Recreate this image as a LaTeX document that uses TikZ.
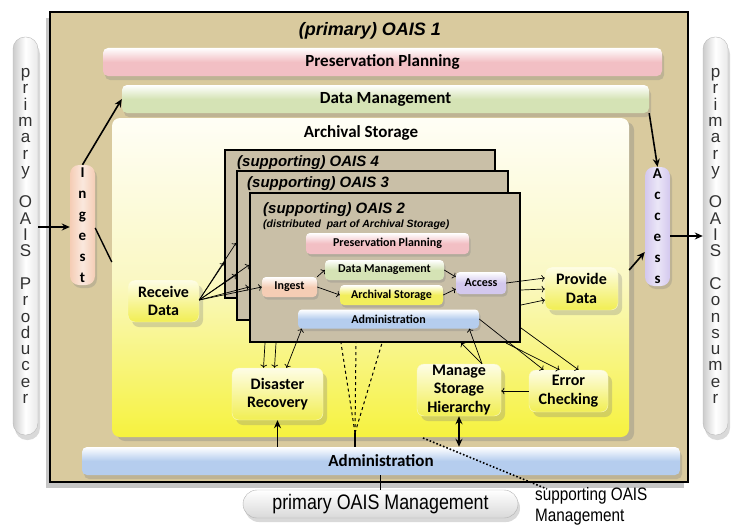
\documentclass[tikz,border=0pt]{standalone}
\usepackage{fontspec}
\setmainfont{Carlito}
\newfontfamily\arial{Liberation Sans}
\newfontfamily\arialn[FakeStretch=0.85]{Liberation Sans}
\usetikzlibrary{arrows.meta,shadows}

\newcommand{\fsz}[2]{\fontsize{#1}{#2}\selectfont}

\definecolor{tan}{HTML}{D9CA9E}
\definecolor{suptan}{HTML}{C9BFA7}
\definecolor{ppcol}{HTML}{F2BFC4}
\definecolor{dmcol}{HTML}{D5E3B5}
\definecolor{ascol}{HTML}{F2EE5C}
\definecolor{admcol}{HTML}{B5CDEE}
\definecolor{ingcol}{HTML}{F5CDB5}
\definecolor{acccol}{HTML}{D3C8EE}
\definecolor{astop}{HTML}{FFFEF6}
\definecolor{asmid}{HTML}{FAF8C4}
\definecolor{asbot}{HTML}{F6F23E}
\definecolor{ytop}{HTML}{FEFDE6}
\definecolor{ybot}{HTML}{F1EE52}

\tikzset{
  oaisframe/.style={draw, line width=2pt, fill=tan, inner sep=0pt,
    drop shadow={shadow xshift=-4pt, shadow yshift=-6pt, opacity=.45}},
  supbox/.style={draw, line width=2pt, fill=suptan, inner sep=0pt},
  suptitle/.style={font=\arial\fsz{15}{17}\bfseries\itshape, inner sep=0pt},
  hbar/.style={rounded corners=5pt, inner sep=0pt, top color=white,
    bottom color=#1, middle color=#1, font=\fsz{17}{20}\bfseries,
    drop shadow={shadow xshift=2pt, shadow yshift=-4pt, opacity=.3}},
  sbar/.style={rounded corners=4pt, inner sep=0pt, top color=white,
    bottom color=#1, middle color=#1, font=\fsz{12}{14}\bfseries,
    drop shadow={shadow xshift=1.5pt, shadow yshift=-2.5pt, opacity=.3}},
  vbar/.style={rounded corners=9pt, inner sep=0pt, left color=#1,
    right color=#1, middle color=white!55!#1, align=center,
    font=\fsz{15}{21}\bfseries,
    drop shadow={shadow xshift=2pt, shadow yshift=-3pt, opacity=.3}},
  greyv/.style={rounded corners=12pt, inner sep=0pt, draw=gray!55,
    left color=gray!40, right color=gray!18, middle color=white,
    align=center, font=\arial\fsz{17}{16.3}, text=black!80,
    drop shadow={shadow xshift=2pt, shadow yshift=-5pt, opacity=.3}},
  asbox/.style={rounded corners=8pt, inner sep=0pt, top color=astop,
    bottom color=asbot, middle color=asmid,
    drop shadow={shadow xshift=5pt, shadow yshift=-4pt, opacity=.35}},
  ybox/.style={rounded corners=7pt, inner sep=0pt, draw=ybot!35!white,
    top color=ytop, bottom color=ybot, align=center,
    font=\fsz{16}{18.5}\bfseries,
    drop shadow={shadow xshift=4pt, shadow yshift=-5pt, opacity=.3}},
  link/.style={->, line width=0.7pt},
  biglink/.style={-{Stealth[length=8pt,width=7pt]}, line width=1.6pt},
}

\begin{document}
\begin{tikzpicture}[x=1pt,y=-1pt]
  \useasboundingbox (0,0) rectangle (733,527);

  % primary OAIS 1
  \node[oaisframe, minimum width=638, minimum height=470] (oaisone) at (369,247) {};
  \node[font=\arial\fsz{18}{20}\bfseries\itshape] (title) at (370,31) {(primary) OAIS 1};
  \node[hbar=ppcol, minimum width=559, minimum height=28] (ppbar) at (382.5,62) {Preservation Planning};
  \node[hbar=dmcol, minimum width=527, minimum height=28] (dmbar) at (385.5,99) {Data Management};
  \node[asbox, minimum width=517, minimum height=319] (asarea) at (370.5,277.5) {};
  \node[font=\fsz{17}{20}\bfseries] (astitle) at (361,133) {Archival Storage};
  \node[vbar=ingcol, minimum width=25, minimum height=120] (ingestbar) at (82.5,225) {I\\n\\g\\e\\s\\t};
  \node[vbar=acccol, minimum width=25, minimum height=119] (accessbar) at (657.5,226.5) {A\\c\\c\\e\\s\\s};
  \node[hbar=admcol, minimum width=598, minimum height=28] (adminbar) at (381,461) {Administration};

  % producer and consumer
  \node[greyv, minimum width=25, minimum height=398] (producer) at (25.5,236)
    {p\\r\\i\\m\\a\\r\\y\\[16.3pt]O\\A\\I\\S\\[16.3pt]P\\r\\o\\d\\u\\c\\e\\r};
  \node[greyv, minimum width=25, minimum height=398] (consumer) at (715.5,236)
    {p\\r\\i\\m\\a\\r\\y\\[16.3pt]O\\A\\I\\S\\[16.3pt]C\\o\\n\\s\\u\\m\\e\\r};

  % supporting OAIS 4, 3, 2
  \node[supbox, minimum width=270, minimum height=148] (oaisfour) at (360,224) {};
  \node[suptitle, anchor=west] (titlefour) at (237,163) {(supporting) OAIS 4};
  \node[supbox, minimum width=271, minimum height=149] (oaisthree) at (372.5,245.5) {};
  \node[suptitle, anchor=west] (titlethree) at (247,184) {(supporting) OAIS 3};
  \node[supbox, minimum width=270, minimum height=149] (oaistwo) at (385,267.5) {};
  \node[suptitle, anchor=west] (titletwo) at (263,210) {(supporting) OAIS 2};
  \node[font=\arial\fsz{10.5}{12}\bfseries\itshape, anchor=west, inner sep=0pt] (distr) at (263,225)
    {(distributed\ \ part of Archival Storage)};
  \node[sbar=ppcol, minimum width=163, minimum height=21] (spp) at (387.5,243.5) {Preservation Planning};
  \node[sbar=dmcol, minimum width=119, minimum height=20] (sdm) at (384.5,270) {Data Management};
  \node[sbar=ascol, minimum width=103, minimum height=20] (sas) at (391.5,295) {Archival Storage};
  \node[sbar=ingcol, minimum width=55, minimum height=20] (sing) at (289.5,287) {Ingest};
  \node[sbar=acccol, minimum width=50, minimum height=22] (sacc) at (481,283) {Access};
  \node[sbar=admcol, minimum width=181, minimum height=19] (sadm) at (388.5,319) {Administration};

  % functions of archival storage
  \node[ybox, minimum width=71, minimum height=42] (recv) at (163.5,301) {Receive\\Data};
  \node[ybox, minimum width=73, minimum height=43] (provide) at (581.5,288.5) {Provide\\Data};
  \node[ybox, minimum width=91, minimum height=52] (disaster) at (277.5,394) {Disaster\\Recovery};
  \node[ybox, minimum width=84, minimum height=52] (msh) at (459,390) {Manage\\Storage\\Hierarchy};
  \node[ybox, minimum width=79, minimum height=42] (errchk) at (568.5,391) {Error\\Checking};

  % management
  \node[rounded corners=14pt, draw=gray!60, top color=white, bottom color=gray!30,
    minimum width=275, minimum height=28, inner sep=0pt, font=\arialn\fsz{21}{24},
    drop shadow={shadow xshift=2pt, shadow yshift=-4pt, opacity=.3}] (mgmt) at (380.5,504)
    {primary OAIS Management};
  \node[font=\arialn\fsz{18}{21}, align=left, anchor=north west, inner sep=0pt] (supnote) at (535,487)
    {supporting OAIS\\Management};

  % primary flows
  \draw[biglink] (producer.east |- 0,227) -- (ingestbar.west |- 0,227);
  \draw[biglink] (ingestbar.north) -- (dmbar.west);
  \draw[line width=1.4pt] (ingestbar.east |- 0,228) -- (asarea.west |- 0,262);
  \draw[biglink] (dmbar.south east) -- (accessbar.north);
  \draw[biglink] (asarea.east |- 0,270) -- (accessbar.west |- 0,252);
  \draw[biglink] (accessbar.east |- 0,236) -- (consumer.west |- 0,236);

  % into the supporting OAIS
  \draw[link] (recv.east |- 0,300) -- (oaisthree.west |- 0,243);
  \draw[link] (recv.east |- 0,300) -- (oaisfour.west |- 0,263);
  \draw[link] (recv.east |- 0,300) -- (oaistwo.west |- 0,265);
  \draw[link] (recv.east |- 0,300) -- (oaisthree.west |- 0,275);
  \draw[link] (recv.east |- 0,300) -- (oaistwo.west |- 0,287);
  \draw[link] (recv.east |- 0,300) -- (sing.west);
  \draw[link] (sing.north east) -- (sdm.west);
  \draw[link] (sing.east) -- (sas.west);
  \draw[link] (sdm.east) -- (sacc.west |- 0,277);
  \draw[link] (sas.east) -- (sacc.west |- 0,289);
  \draw[link] (sacc.east) -- (provide.west |- 0,278);
  \draw[link] (oaistwo.east |- 0,290) -- (provide.west |- 0,289);
  \draw[link] (oaistwo.east |- 0,305) -- (provide.west |- 0,300);

  % disaster recovery, storage hierarchy, error checking
  \draw[link] ([xshift=16pt]oaistwo.south west) -- ([xshift=-14pt]disaster.north);
  \draw[link] ([xshift=27pt]oaistwo.south west) -- ([xshift=-3pt]disaster.north);
  \draw[link, <->] ([xshift=4pt]sadm.south west) -- ([xshift=9pt]disaster.north);
  \draw[link] ([xshift=23pt]msh.north) -- ([xshift=-10pt]sadm.south east);
  \draw[link] ([xshift=23pt]msh.north) -- ([xshift=-60pt]oaistwo.south east);
  \draw[link] (sadm.east) -- ([xshift=-25pt]errchk.north);
  \draw[link] ([xshift=-15pt]oaistwo.south east) -- ([xshift=-9pt]errchk.north);
  \draw[link] (oaistwo.east |- 0,328) -- ([xshift=10pt]errchk.north);
  \draw[link] (errchk.west) -- (msh.east |- errchk.west);
  \draw[biglink, {Stealth[length=8pt,width=7pt]}-{Stealth[length=8pt,width=7pt]}] (msh.south) -- (msh.south |- adminbar.north);
  \draw[biglink] (disaster.south |- adminbar.north) -- (disaster.south);

  % administration links
  \coordinate (dashroot) at (355,433);
  \draw[line width=1.4pt] (dashroot) -- (dashroot |- adminbar.north);
  \draw[dashed, line width=1pt] (dashroot) -- ([xshift=92pt]oaistwo.south west);
  \draw[dashed, line width=1pt] (dashroot) -- ([xshift=107pt]oaistwo.south west);
  \draw[dashed, line width=1pt] (dashroot) -- ([xshift=133pt]oaistwo.south west);
  \coordinate (dotstart) at (423,438);
  \coordinate (dotend) at (547,489);
  \draw[dotted, line width=1.6pt] (dotstart) -- (dotend);
  \draw[line width=1.4pt] (mgmt.north) -- (mgmt.north |- adminbar.south);
\end{tikzpicture}
\end{document}
